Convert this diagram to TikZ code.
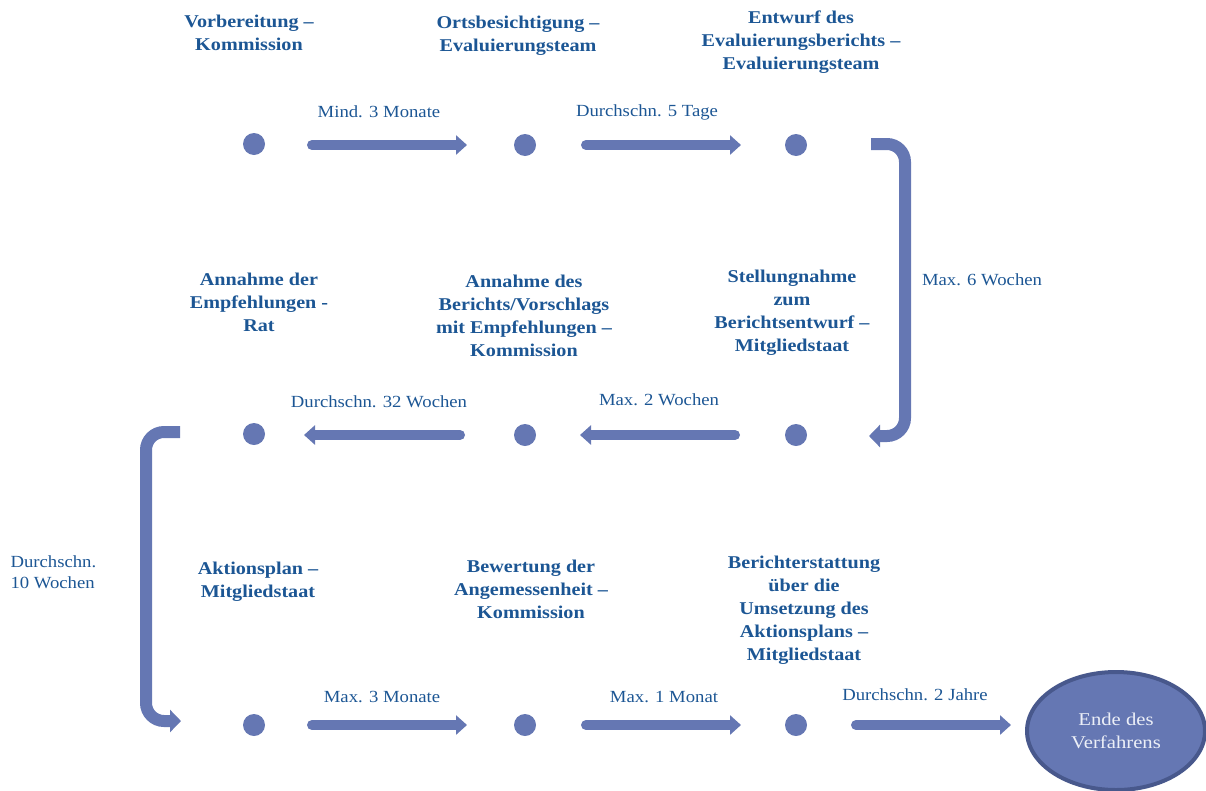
\documentclass[tikz,border=0pt]{standalone}
\usepackage{fontspec}
\setmainfont{Liberation Serif}
\newfontfamily\stagefont[FakeStretch=1.12]{Liberation Serif}
\newfontfamily\durfont[FakeStretch=1.1]{Liberation Serif}
\newfontfamily\endfont[FakeStretch=1.15]{Liberation Serif}
\usetikzlibrary{arrows.meta,shapes.geometric}
\definecolor{txtblue}{RGB}{28,86,148}
\definecolor{arrblue}{RGB}{101,119,179}
\definecolor{ellborder}{RGB}{72,88,140}
\definecolor{elltext}{RGB}{236,239,247}
\tikzset{
  dot/.style={circle,fill=arrblue,minimum size=22pt,inner sep=0pt},
  stage/.style={align=center,text=txtblue,font=\stagefont\fontsize{18}{23}\selectfont\bfseries},
  dur/.style={align=center,text=txtblue,font=\durfont\fontsize{17}{21}\selectfont},
  flow/.style={draw=arrblue,line width=10pt,line cap=round,-{Triangle[length=11pt,width=19pt]}},
  bentarrow/.style={draw=arrblue,line width=12pt,rounded corners=18pt,-{Triangle[length=11pt,width=22pt]}},
}
\begin{document}
\begin{tikzpicture}[x=1pt,y=-1pt]
\useasboundingbox (0,0) rectangle (1206,790);
% dots
\node[dot] (d11) at (254,144) {};
\node[dot] (d12) at (525,145) {};
\node[dot] (d13) at (796,145) {};
\node[dot] (d21) at (254,434) {};
\node[dot] (d22) at (525,435) {};
\node[dot] (d23) at (796,435) {};
\node[dot] (d31) at (254,725) {};
\node[dot] (d32) at (525,725) {};
\node[dot] (d33) at (796,725) {};
\node[ellipse,draw=ellborder,line width=4pt,fill=arrblue,minimum width=178pt,minimum height=118pt,
  align=center,text=elltext,font=\endfont\fontsize{18}{23}\selectfont] (end) at (1116,731) {Ende des\\Verfahrens};
% arrow endpoints
\coordinate (a1s) at (312,145); \coordinate (a1e) at (467,145);
\coordinate (a2s) at (586,145); \coordinate (a2e) at (741,145);
\coordinate (b1s) at (735,435); \coordinate (b1e) at (580,435);
\coordinate (b2s) at (460,435); \coordinate (b2e) at (304,435);
\coordinate (c1s) at (312,725); \coordinate (c1e) at (467,725);
\coordinate (c2s) at (586,725); \coordinate (c2e) at (741,725);
\coordinate (c3s) at (856,725); \coordinate (c3e) at (1011,725);
\coordinate (r1s) at (871,144); \coordinate (r1e) at (869,436);
\coordinate (l1s) at (180,432); \coordinate (l1e) at (181,721);
\draw[flow] (a1s) -- (a1e);
\draw[flow] (a2s) -- (a2e);
\draw[flow] (b1s) -- (b1e);
\draw[flow] (b2s) -- (b2e);
\draw[flow] (c1s) -- (c1e);
\draw[flow] (c2s) -- (c2e);
\draw[flow] (c3s) -- (c3e);
\draw[bentarrow] (r1s) -- (905,144) -- (905,436) -- (r1e);
\draw[bentarrow] (l1s) -- (146,432) -- (146,721) -- (l1e);
% stage labels
\node[stage] (s11) at (249,33) {Vorbereitung –\\Kommission};
\node[stage] (s12) at (518,36) {Ortsbesichtigung –\\Evaluierungsteam};
\node[stage] (s13) at (801,42) {Entwurf des\\Evaluierungsberichts –\\Evaluierungsteam};
\node[stage] (s21) at (259,302) {Annahme der\\Empfehlungen -\\Rat};
\node[stage] (s22) at (524,316) {Annahme des\\Berichts/Vorschlags\\mit Empfehlungen –\\Kommission};
\node[stage] (s23) at (792,313) {Stellungnahme\\zum\\Berichtsentwurf –\\Mitgliedstaat};
\node[stage] (s31) at (258,582) {Aktionsplan –\\Mitgliedstaat};
\node[stage] (s32) at (531,589) {Bewertung der\\Angemessenheit –\\Kommission};
\node[stage] (s33) at (804,610) {Berichterstattung\\über die\\Umsetzung des\\Aktionsplans –\\Mitgliedstaat};
% duration labels
\node[dur] (t1) at (379,112) {Mind. 3 Monate};
\node[dur] (t2) at (647,112) {Durchschn. 5 Tage};
\node[dur] (t3) at (982,280) {Max. 6 Wochen};
\node[dur] (t4) at (379,402) {Durchschn. 32 Wochen};
\node[dur] (t5) at (659,400) {Max. 2 Wochen};
\node[dur,align=left,anchor=west] (t6) at (7,572) {Durchschn.\\10 Wochen};
\node[dur] (t7) at (382,697) {Max. 3 Monate};
\node[dur] (t8) at (664,697) {Max. 1 Monat};
\node[dur] (t9) at (915,695) {Durchschn. 2 Jahre};
\end{tikzpicture}
\end{document}
